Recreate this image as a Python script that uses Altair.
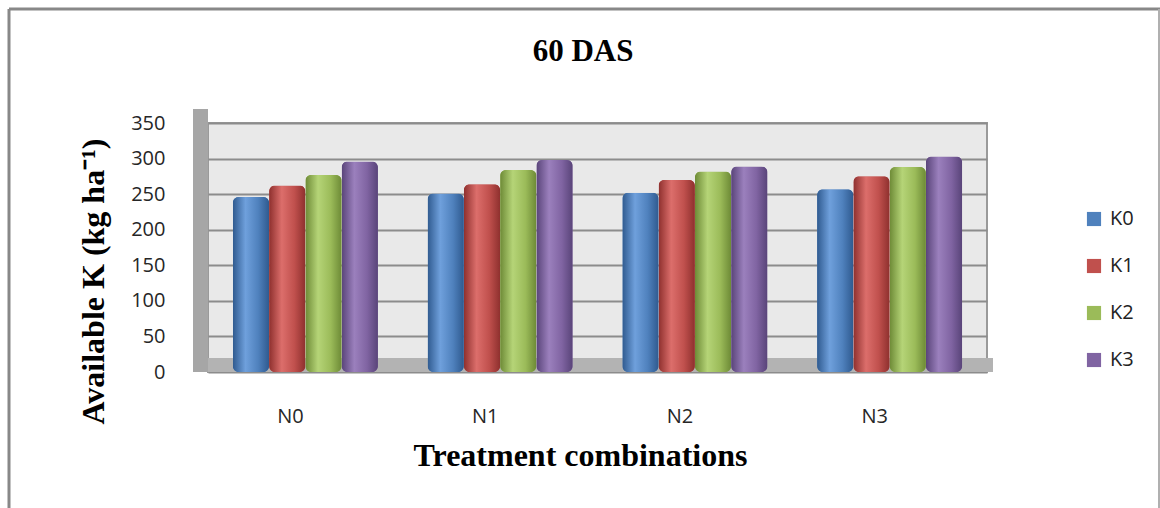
import altair as alt
import pandas as pd

treatments = ["N0", "N1", "N2", "N3"]
series = ["K0", "K1", "K2", "K3"]
K0 = [246, 251, 252, 257]
K1 = [262, 264, 270, 275]
K2 = [277, 284, 282, 288]
K3 = [296, 298, 289, 303]
colors = ["#4f81bd", "#c0504d", "#9bbb59", "#8064a2"]
dark = ["#2f5a8f", "#8e302e", "#6d8a36", "#594479"]
light = ["#6fa0dc", "#dc6e6b", "#b5d477", "#9b80bd"]
title_text = "60 DAS"

rows = []
for s, vals in zip(series, [K0, K1, K2, K3]):
    for t, v in zip(treatments, vals):
        rows.append({"Treatment": t, "Series": s, "Value": v})
df = pd.DataFrame(rows)

W, H = 779, 249
LABEL_FONT = "Open Sans"

x_enc = alt.X("Treatment:N", sort=treatments,
              scale=alt.Scale(paddingInner=0.255, paddingOuter=0.1275),
              axis=alt.Axis(title="Treatment combinations", labelAngle=0, ticks=False,
                            domain=False, labelPadding=34, labelOffset=-15,
                            titlePadding=14, titleX=372))
xo_enc = alt.XOffset("Series:N", sort=series, scale=alt.Scale(domain=series, paddingInner=0.0))
y_enc = alt.Y("Value:Q", scale=alt.Scale(domain=[0, 350]),
              axis=alt.Axis(title="Available K (kg ha\u207b\u00b9)", values=list(range(0, 351, 50)),
                            ticks=False, domain=False, labelPadding=43, titlePadding=20,
                            titleY=158, gridColor="#8c8c8c", gridWidth=2))

one = pd.DataFrame({"k": [0]})

floor = alt.Chart(one).mark_rect(color="#b3b3b3", clip=False).encode(
    x=alt.value(-15), x2=alt.value(W + 6), y=alt.value(H - 14), y2=alt.value(H))
wall = alt.Chart(one).mark_rect(color="#a6a6a6", clip=False).encode(
    x=alt.value(-15), x2=alt.value(0), y=alt.value(-14), y2=alt.value(H))

base = alt.Chart(df).mark_bar(cornerRadius=6).encode(
    x=x_enc, xOffset=xo_enc, y=y_enc,
    color=alt.Color("Series:N", sort=series,
                    scale=alt.Scale(domain=series, range=colors),
                    legend=alt.Legend(title=None, orient="none", legendX=876, legendY=86,
                                      symbolType="square", symbolSize=200,
                                      symbolStrokeWidth=1.5, labelFontSize=20,
                                      labelFont=LABEL_FONT, labelColor="#222222",
                                      rowPadding=27, labelOffset=6)),
)

layers = [floor, wall, base]
for s, c, d, l in zip(series, colors, dark, light):
    grad = alt.Gradient(gradient="linear", x1=0, x2=1, y1=0, y2=0,
                        stops=[alt.GradientStop(color=d, offset=0),
                               alt.GradientStop(color=l, offset=0.35),
                               alt.GradientStop(color=c, offset=0.7),
                               alt.GradientStop(color=d, offset=1)])
    layers.append(
        alt.Chart(df).transform_filter(alt.datum.Series == s)
        .mark_bar(cornerRadius=6, fill=grad)
        .encode(x=x_enc, xOffset=xo_enc, y=y_enc)
    )

title = alt.Chart(one).mark_text(text=title_text, font="Liberation Serif", fontSize=31,
                                 fontWeight="bold", color="#000000", align="center",
                                 baseline="alphabetic", clip=False).encode(
    x=alt.value(375), y=alt.value(-62))

frame_left = alt.Chart(one).mark_rule(color="#888888", strokeWidth=3, clip=False).encode(
    x=alt.value(-199), y=alt.value(-114), y2=alt.value(385))
frame_top = alt.Chart(one).mark_rule(color="#888888", strokeWidth=3, clip=False).encode(
    x=alt.value(-199), x2=alt.value(952), y=alt.value(-114))
frame_right = alt.Chart(one).mark_rule(color="#b0b0b0", strokeWidth=2, clip=False).encode(
    x=alt.value(951), y=alt.value(-114), y2=alt.value(385))

chart = alt.layer(*layers, title, frame_left, frame_top, frame_right).properties(
    width=W, height=H,
    autosize=alt.AutoSizeParams(type="none"),
    padding={"left": 208, "top": 123, "right": 173, "bottom": 136},
).configure_view(
    fill="#e9e9e9", stroke="#9a9a9a", strokeWidth=2
).configure_axis(
    labelFont=LABEL_FONT, labelFontSize=20, labelColor="#262626",
    titleFont="Liberation Serif", titleFontSize=32, titleFontWeight="bold", titleColor="#000000"
)

chart.save("out.html", embed_options={"renderer": "svg", "actions": False})
